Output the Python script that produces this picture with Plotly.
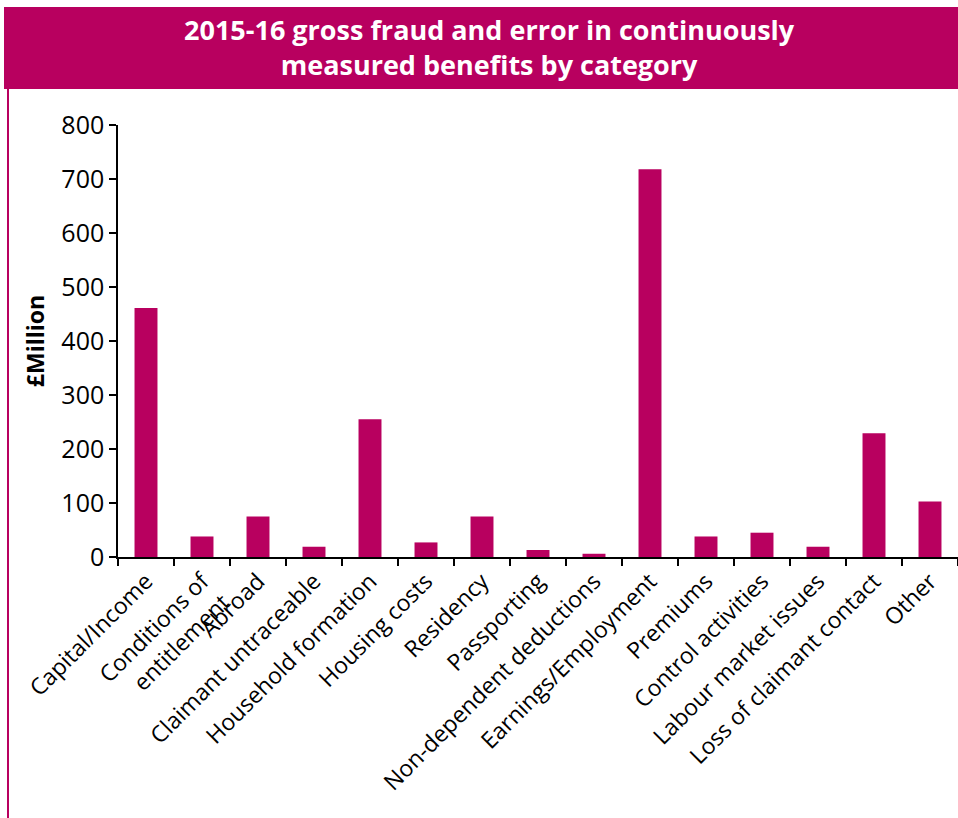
import plotly.graph_objects as go

categories = ["Capital/Income", "Conditions of<br>entitlement", "Abroad", "Claimant untraceable",
              "Household formation", "Housing costs", "Residency", "Passporting",
              "Non-dependent deductions", "Earnings/Employment", "Premiums", "Control activities",
              "Labour market issues", "Loss of claimant contact", "Other"]
values = [461, 38, 75, 19, 255, 27, 75, 13, 6, 718, 38, 45, 19, 229, 103]
y_ticks = [0, 100, 200, 300, 400, 500, 600, 700, 800]

MAG = "#B8005F"
W, H = 958, 818
L, R, T, B = 118, 0, 125, 261
pw, ph = W - L - R, H - T - B

def px(x):
    return (x - L) / pw

def py(y):
    return (H - B - y) / ph

fig = go.Figure(go.Bar(x=categories, y=values, marker_color=MAG, width=0.41,
                       marker_line_width=0))

fig.update_layout(
    width=W, height=H, margin=dict(l=L, r=R, t=T, b=B),
    plot_bgcolor="white", paper_bgcolor="white",
    showlegend=False,
    font=dict(family="Open Sans", color="black"),
    xaxis=dict(type="category", tickson="boundaries", ticks="outside", ticklen=7,
               tickcolor="black", tickwidth=1.5, showline=True, linecolor="black",
               linewidth=1.5, tickangle=-45, tickfont=dict(size=23, family="Open Sans"),
               showgrid=False),
    yaxis=dict(range=[0, 800], tickvals=y_ticks, ticks="outside", ticklen=7,
               tickcolor="black", tickwidth=1.5, showline=True, linecolor="black",
               linewidth=1.5, showgrid=False, zeroline=False,
               tickfont=dict(size=25, family="Open Sans"),
               title=dict(text="<b>£Million</b>", font=dict(size=23), standoff=10)),
    shapes=[
        dict(type="rect", xref="paper", yref="paper", x0=px(4), x1=px(958),
             y0=py(89), y1=py(7), fillcolor=MAG, line_width=0, layer="below"),
        dict(type="line", xref="paper", yref="paper", x0=px(8), x1=px(8),
             y0=py(89), y1=py(818), line=dict(color=MAG, width=2)),
    ],
    annotations=[
        dict(text="<b>2015-16 gross fraud and error in continuously<br>measured benefits by category</b>",
             xref="paper", yref="paper", x=px(489), y=py(47), showarrow=False,
             xanchor="center", yanchor="middle",
             font=dict(color="white", size=27, family="Open Sans"))
    ],
)

fig.write_html("out.html")
